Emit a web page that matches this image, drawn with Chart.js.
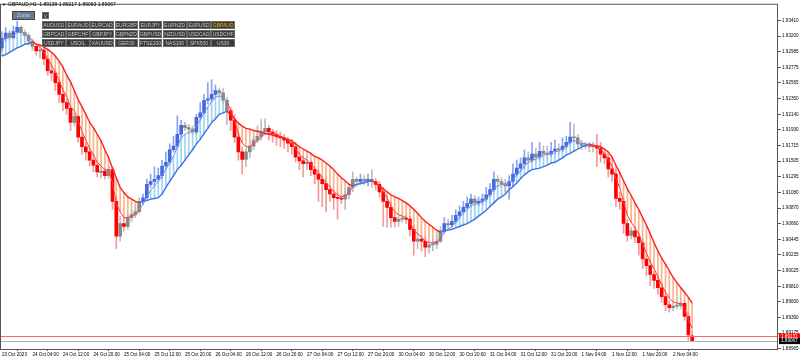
<!DOCTYPE html>
<html>
<head>
<meta charset="utf-8">
<script src="https://cdn.jsdelivr.net/npm/chart.js@4.4.0/dist/chart.umd.min.js"></script>
<style>
  body { margin: 0; background: #fff; }
  #wrap { position: relative; width: 800px; height: 359px; overflow: hidden; }
  #hdr { position: absolute; left: 8px; top: 1px; font: 5px "Liberation Sans", sans-serif; color: #000; white-space: nowrap; }
  #tri { position: absolute; left: 2px; top: 2px; font: 4px "Liberation Sans", sans-serif; color: #000; }
  .btn { position: absolute; box-sizing: border-box; height: 8px; background: #3b3b3b; border: 1px solid #6a6a6a;
         color: #c9c9c9; font: 5px "Liberation Sans", sans-serif; line-height: 6px; text-align: center; white-space: nowrap; }
  #zoma { position: absolute; left: 12px; top: 11px; width: 23px; height: 9px; box-sizing: border-box; background: #6e7888;
          border: 1px solid #3d4450; color: #a9dcff; font: 5px "Liberation Sans", sans-serif; line-height: 7px; text-align: center; }
</style>
</head>
<body>
<div id="wrap">
  <canvas id="candleChart" width="800" height="359"></canvas>
  <div id="tri">▼</div>
  <div id="hdr">GBPAUD,H1&nbsp; 1.89139 1.89217 1.89063 1.89067</div>
  <div id="zoma">Zoma</div>
</div>
<script>
// price data (GBPAUD H1)
const openP = [
  1.9304,1.9317,1.9324,1.9318,1.9326,1.9332,1.9325,1.9321,1.9313,1.9306,
  1.9300,1.9301,1.9289,1.9273,1.9270,1.9257,1.9241,1.9230,1.9222,1.9203,
  1.9211,1.9183,1.9170,1.9163,1.9152,1.9145,1.9135,1.9137,1.9131,1.9139,
  1.9096,1.9049,1.9066,1.9062,1.9074,1.9078,1.9082,1.9096,1.9101,1.9119,
  1.9123,1.9126,1.9131,1.9144,1.9149,1.9166,1.9171,1.9187,1.9199,1.9196,
  1.9194,1.9190,1.9210,1.9216,1.9233,1.9235,1.9241,1.9246,1.9243,1.9233,
  1.9219,1.9206,1.9183,1.9163,1.9153,1.9163,1.9171,1.9179,1.9184,1.9190,
  1.9195,1.9190,1.9187,1.9184,1.9182,1.9179,1.9175,1.9170,1.9156,1.9151,
  1.9147,1.9149,1.9139,1.9133,1.9126,1.9120,1.9112,1.9106,1.9101,1.9100,
  1.9099,1.9105,1.9115,1.9126,1.9123,1.9126,1.9124,1.9126,1.9123,1.9119,
  1.9109,1.9096,1.9088,1.9074,1.9069,1.9072,1.9073,1.9072,1.9058,1.9042,
  1.9045,1.9042,1.9034,1.9037,1.9038,1.9042,1.9056,1.9066,1.9064,1.9069,
  1.9077,1.9082,1.9088,1.9093,1.9099,1.9094,1.9096,1.9099,1.9105,1.9112,
  1.9126,1.9123,1.9120,1.9117,1.9123,1.9133,1.9141,1.9147,1.9155,1.9152,
  1.9160,1.9156,1.9164,1.9161,1.9160,1.9164,1.9167,1.9166,1.9171,1.9176,
  1.9183,1.9182,1.9174,1.9172,1.9171,1.9170,1.9171,1.9168,1.9160,1.9155,
  1.9140,1.9133,1.9100,1.9096,1.9066,1.9050,1.9056,1.9048,1.9040,1.9018,
  1.9009,1.8997,1.8989,1.8979,1.8967,1.8956,1.8952,1.8954,1.8955,1.8958,
  1.8940,1.89139
];
const highP = [
  1.9326,1.9332,1.9328,1.9334,1.9340,1.9334,1.9328,1.9324,1.9316,1.9310,
  1.9305,1.9304,1.9294,1.9281,1.9273,1.9260,1.9249,1.9235,1.9224,1.9216,
  1.9214,1.9190,1.9176,1.9168,1.9160,1.9149,1.9143,1.9141,1.9144,1.9143,
  1.9102,1.9076,1.9074,1.9080,1.9085,1.9089,1.9101,1.9106,1.9126,1.9133,
  1.9143,1.9141,1.9152,1.9163,1.9174,1.9184,1.9212,1.9206,1.9203,1.9200,
  1.9198,1.9214,1.9230,1.9241,1.9257,1.9261,1.9254,1.9250,1.9249,1.9237,
  1.9223,1.9214,1.9190,1.9170,1.9168,1.9176,1.9184,1.9198,1.9207,1.9208,
  1.9199,1.9194,1.9192,1.9190,1.9187,1.9183,1.9180,1.9176,1.9163,1.9157,
  1.9157,1.9152,1.9143,1.9139,1.9131,1.9128,1.9117,1.9112,1.9109,1.9105,
  1.9112,1.9120,1.9136,1.9129,1.9133,1.9131,1.9133,1.9139,1.9127,1.9123,
  1.9115,1.9102,1.9096,1.9082,1.9077,1.9078,1.9077,1.9076,1.9064,1.9053,
  1.9050,1.9048,1.9042,1.9045,1.9050,1.9062,1.9074,1.9072,1.9077,1.9085,
  1.9090,1.9096,1.9102,1.9106,1.9104,1.9102,1.9106,1.9115,1.9120,1.9136,
  1.9131,1.9128,1.9126,1.9131,1.9147,1.9152,1.9155,1.9166,1.9163,1.9176,
  1.9168,1.9176,1.9171,1.9171,1.9176,1.9179,1.9174,1.9182,1.9184,1.9203,
  1.9200,1.9187,1.9179,1.9176,1.9175,1.9176,1.9187,1.9176,1.9166,1.9160,
  1.9147,1.9139,1.9109,1.9101,1.9072,1.9061,1.9061,1.9053,1.9045,1.9026,
  1.9015,1.9002,1.8997,1.8986,1.8973,1.8962,1.8959,1.8962,1.8965,1.8962,
  1.8946,1.89217
];
const lowP = [
  1.9300,1.9313,1.9314,1.9316,1.9324,1.9321,1.9317,1.9308,1.9301,1.9294,
  1.9290,1.9281,1.9267,1.9260,1.9246,1.9230,1.9219,1.9214,1.9192,1.9198,
  1.9176,1.9160,1.9152,1.9144,1.9136,1.9129,1.9128,1.9126,1.9127,1.9085,
  1.9032,1.9042,1.9056,1.9058,1.9069,1.9074,1.9080,1.9092,1.9099,1.9115,
  1.9117,1.9123,1.9127,1.9139,1.9147,1.9163,1.9168,1.9183,1.9192,1.9188,
  1.9186,1.9187,1.9206,1.9214,1.9228,1.9231,1.9237,1.9239,1.9227,1.9200,
  1.9192,1.9176,1.9152,1.9133,1.9143,1.9155,1.9166,1.9176,1.9179,1.9186,
  1.9179,1.9176,1.9172,1.9170,1.9168,1.9163,1.9160,1.9149,1.9139,1.9129,
  1.9139,1.9131,1.9120,1.9096,1.9089,1.9082,1.9096,1.9085,1.9072,1.9093,
  1.9085,1.9099,1.9109,1.9116,1.9119,1.9119,1.9117,1.9115,1.9112,1.9102,
  1.9062,1.9061,1.9061,1.9061,1.9062,1.9068,1.9066,1.9049,1.9023,1.9032,
  1.9029,1.9021,1.9026,1.9029,1.9032,1.9040,1.9053,1.9058,1.9061,1.9066,
  1.9074,1.9080,1.9085,1.9089,1.9089,1.9090,1.9092,1.9096,1.9102,1.9109,
  1.9116,1.9115,1.9109,1.9099,1.9117,1.9131,1.9136,1.9141,1.9147,1.9149,
  1.9149,1.9152,1.9155,1.9152,1.9157,1.9160,1.9160,1.9163,1.9168,1.9174,
  1.9176,1.9170,1.9166,1.9167,1.9163,1.9163,1.9143,1.9149,1.9147,1.9129,
  1.9123,1.9089,1.9085,1.9053,1.9042,1.9045,1.9040,1.9023,1.9005,1.8995,
  1.8982,1.8978,1.8970,1.8959,1.8948,1.8946,1.8948,1.8950,1.8951,1.8935,
  1.8908,1.89063
];
const closeP = [
  1.9317,1.9324,1.9318,1.9326,1.9332,1.9325,1.9321,1.9313,1.9306,1.9300,
  1.9301,1.9289,1.9273,1.9270,1.9257,1.9241,1.9230,1.9222,1.9203,1.9211,
  1.9183,1.9170,1.9163,1.9152,1.9145,1.9136,1.9137,1.9131,1.9139,1.9096,
  1.9049,1.9066,1.9062,1.9074,1.9078,1.9082,1.9096,1.9101,1.9119,1.9123,
  1.9126,1.9131,1.9144,1.9149,1.9166,1.9171,1.9187,1.9199,1.9196,1.9194,
  1.9190,1.9210,1.9216,1.9233,1.9235,1.9241,1.9246,1.9243,1.9233,1.9219,
  1.9206,1.9183,1.9163,1.9153,1.9163,1.9171,1.9179,1.9184,1.9190,1.9195,
  1.9190,1.9187,1.9184,1.9182,1.9179,1.9175,1.9170,1.9156,1.9151,1.9147,
  1.9149,1.9139,1.9133,1.9126,1.9120,1.9112,1.9106,1.9101,1.9100,1.9099,
  1.9105,1.9115,1.9126,1.9123,1.9126,1.9124,1.9126,1.9123,1.9119,1.9109,
  1.9096,1.9088,1.9074,1.9069,1.9072,1.9073,1.9072,1.9058,1.9042,1.9045,
  1.9042,1.9034,1.9037,1.9038,1.9042,1.9056,1.9066,1.9064,1.9069,1.9077,
  1.9082,1.9088,1.9093,1.9099,1.9094,1.9096,1.9099,1.9105,1.9112,1.9126,
  1.9123,1.9120,1.9117,1.9123,1.9133,1.9141,1.9147,1.9155,1.9152,1.9160,
  1.9156,1.9164,1.9161,1.9160,1.9164,1.9167,1.9166,1.9171,1.9176,1.9183,
  1.9182,1.9174,1.9172,1.9171,1.9170,1.9171,1.9168,1.9160,1.9155,1.9140,
  1.9133,1.9100,1.9096,1.9066,1.9050,1.9056,1.9048,1.9040,1.9018,1.9009,
  1.8997,1.8989,1.8979,1.8967,1.8956,1.8952,1.8954,1.8955,1.8958,1.8940,
  1.8915,1.89067
];
// slow trend MA and fast MA
const slowMA = [
  1.9293,1.9295,1.9298,1.9301,1.9304,1.9306,1.9309,1.9310,1.9312,1.9309,
  1.9308,1.9305,1.9302,1.9298,1.9293,1.9286,1.9278,1.9267,1.9258,1.9246,
  1.9234,1.9224,1.9214,1.9203,1.9196,1.9187,1.9178,1.9166,1.9155,1.9141,
  1.9128,1.9115,1.9108,1.9102,1.9099,1.9096,1.9094,1.9096,1.9097,1.9099,
  1.9100,1.9101,1.9106,1.9115,1.9123,1.9131,1.9139,1.9145,1.9152,1.9159,
  1.9166,1.9174,1.9180,1.9188,1.9195,1.9203,1.9208,1.9214,1.9216,1.9218,
  1.9214,1.9208,1.9202,1.9198,1.9195,1.9194,1.9192,1.9191,1.9190,1.9188,
  1.9187,1.9186,1.9184,1.9183,1.9182,1.9180,1.9178,1.9174,1.9170,1.9167,
  1.9164,1.9161,1.9157,1.9155,1.9152,1.9148,1.9144,1.9139,1.9133,1.9128,
  1.9124,1.9119,1.9117,1.9119,1.9120,1.9121,1.9123,1.9124,1.9121,1.9117,
  1.9113,1.9109,1.9105,1.9102,1.9100,1.9097,1.9094,1.9090,1.9085,1.9080,
  1.9074,1.9069,1.9065,1.9061,1.9057,1.9054,1.9056,1.9057,1.9058,1.9060,
  1.9062,1.9064,1.9066,1.9069,1.9072,1.9076,1.9080,1.9084,1.9089,1.9094,
  1.9099,1.9102,1.9106,1.9112,1.9116,1.9121,1.9127,1.9132,1.9136,1.9139,
  1.9140,1.9141,1.9143,1.9145,1.9148,1.9149,1.9152,1.9155,1.9159,1.9161,
  1.9164,1.9167,1.9170,1.9172,1.9174,1.9172,1.9171,1.9170,1.9167,1.9163,
  1.9156,1.9145,1.9135,1.9124,1.9113,1.9104,1.9094,1.9085,1.9074,1.9064,
  1.9052,1.9040,1.9029,1.9019,1.9011,1.9002,1.8993,1.8986,1.8979,1.8973,
  1.8966,1.8958
];
const fastMA = [
  1.9313,1.9317,1.9318,1.9321,1.9325,1.9325,1.9324,1.9320,1.9314,1.9309,
  1.9305,1.9298,1.9289,1.9281,1.9271,1.9260,1.9247,1.9238,1.9224,1.9219,
  1.9204,1.9191,1.9179,1.9168,1.9159,1.9149,1.9144,1.9139,1.9139,1.9121,
  1.9093,1.9082,1.9074,1.9074,1.9076,1.9078,1.9085,1.9092,1.9102,1.9111,
  1.9117,1.9123,1.9131,1.9139,1.9149,1.9157,1.9170,1.9182,1.9187,1.9190,
  1.9190,1.9198,1.9206,1.9216,1.9224,1.9231,1.9237,1.9239,1.9237,1.9230,
  1.9220,1.9206,1.9188,1.9175,1.9170,1.9170,1.9174,1.9178,1.9183,1.9188,
  1.9188,1.9188,1.9187,1.9184,1.9182,1.9179,1.9175,1.9167,1.9160,1.9155,
  1.9152,1.9147,1.9141,1.9135,1.9128,1.9121,1.9116,1.9109,1.9105,1.9102,
  1.9104,1.9108,1.9115,1.9119,1.9121,1.9123,1.9124,1.9124,1.9121,1.9117,
  1.9109,1.9101,1.9090,1.9082,1.9078,1.9076,1.9074,1.9068,1.9057,1.9052,
  1.9048,1.9042,1.9040,1.9040,1.9041,1.9046,1.9054,1.9058,1.9062,1.9068,
  1.9074,1.9080,1.9085,1.9090,1.9092,1.9093,1.9096,1.9100,1.9105,1.9113,
  1.9117,1.9119,1.9119,1.9120,1.9126,1.9132,1.9137,1.9144,1.9148,1.9152,
  1.9153,1.9157,1.9159,1.9160,1.9161,1.9164,1.9164,1.9167,1.9171,1.9176,
  1.9179,1.9176,1.9175,1.9174,1.9172,1.9171,1.9170,1.9166,1.9161,1.9152,
  1.9144,1.9127,1.9115,1.9096,1.9077,1.9068,1.9060,1.9052,1.9038,1.9026,
  1.9014,1.9005,1.8994,1.8983,1.8973,1.8965,1.8960,1.8958,1.8958,1.8951,
  1.8936,1.8924
];

const yTicks = [1.93410, 1.93200, 1.92985, 1.92775, 1.92565, 1.92350, 1.92140, 1.91930, 1.91715, 1.91505, 1.91295,
  1.91080, 1.90870, 1.90660, 1.90445, 1.90235, 1.90025, 1.89810, 1.89600, 1.89390, 1.89175, 1.88965];
const tickLabels = ["23 Oct 20:00", "24 Oct 04:00", "24 Oct 12:00", "24 Oct 20:00", "25 Oct 04:00", "25 Oct 12:00",
  "25 Oct 20:00", "26 Oct 04:00", "26 Oct 12:00", "26 Oct 20:00", "27 Oct 04:00", "27 Oct 12:00", "27 Oct 20:00",
  "30 Oct 04:00", "30 Oct 12:00", "30 Oct 20:00", "31 Oct 04:00", "31 Oct 12:00", "31 Oct 20:00", "1 Nov 04:00",
  "1 Nov 12:00", "1 Nov 20:00", "2 Nov 04:00"];
const askPrice = 1.89131;
const bidPrice = 1.89067;

const symbolRows = [
  ["AUDUSD", "EURAUD", "EURCAD", "EURGBP", "EURJPY", "EURNZD", "EURUSD", "GBPAUD"],
  ["GBPCAD", "GBPCHF", "GBPJPY", "GBPNZD", "GBPUSD", "NZDUSD", "USDCAD", "USDCHF"],
  ["USDJPY", "USOIL", "XAUUSD", "GER30", "FTSE100", "NAS100", "SPX500", "US30"],
];

// hourly bars, weekend skipped
const months = ["Jan", "Feb", "Mar", "Apr", "May", "Jun", "Jul", "Aug", "Sep", "Oct", "Nov", "Dec"];
const categories = [];
for (let t = Date.UTC(2023, 9, 23, 20); categories.length < closeP.length; t += 3600000) {
  const d = new Date(t);
  if (d.getUTCDay() === 0 || d.getUTCDay() === 6) continue;
  categories.push(d.getUTCDate() + " " + months[d.getUTCMonth()] + " " + String(d.getUTCHours()).padStart(2, "0") + ":00");
}
for (let k = 0; k < 22; k++) categories.push("");

// colours
const BLUE = "#4169e1", RED = "#ff0000", GREY = "#8a8a8a";
const trendUp = slowMA.map((v, i) => i === 0 ? slowMA[1] >= v : v >= slowMA[i - 1]);
const candleKind = closeP.map((c, i) => {
  const bull = c >= openP[i];
  if (trendUp[i] && bull) return "up";
  if (!trendUp[i] && !bull) return "down";
  return "flat";
});
const bodyCol = { up: BLUE, down: RED, flat: GREY };
const wickCol = { up: "#8da4ec", down: "#f59a9a", flat: "#bdbdbd" };

// buttons panel
const wrap = document.getElementById("wrap");
const v = document.createElement("div");
v.className = "btn"; v.textContent = "V";
Object.assign(v.style, { left: "42px", top: "12px", width: "7px", height: "7px" });
wrap.appendChild(v);
symbolRows.forEach((row, r) => {
  row.forEach((s, c) => {
    const b = document.createElement("div");
    b.className = "btn";
    b.textContent = s;
    Object.assign(b.style, { left: (42 + c * 24.2) + "px", top: (20.5 + r * 9) + "px", width: "23.5px" });
    if (s === "GBPAUD") b.style.color = "#f2b600";
    wrap.appendChild(b);
  });
});

const priceLines = {
  id: "priceLines",
  afterDatasetsDraw(chart) {
    const { ctx, chartArea: a, scales: { y } } = chart;
    ctx.save();
    ctx.lineWidth = 1;
    ctx.strokeStyle = "#ff6666";
    let py = Math.round(y.getPixelForValue(askPrice)) + 0.5;
    ctx.beginPath(); ctx.moveTo(a.left, py); ctx.lineTo(a.right, py); ctx.stroke();
    ctx.strokeStyle = "#aab6c6";
    py = Math.round(y.getPixelForValue(bidPrice)) + 0.5;
    ctx.beginPath(); ctx.moveTo(a.left, py); ctx.lineTo(a.right, py); ctx.stroke();
    // frame
    ctx.strokeStyle = "#555";
    ctx.strokeRect(a.left + 0.5, a.top + 0.5, a.right - a.left - 1, a.bottom - a.top);
    ctx.restore();
  },
  afterDraw(chart) {
    const { ctx, chartArea: a, scales: { y } } = chart;
    ctx.save();
    ctx.font = "4.6px 'Liberation Sans'";
    ctx.textBaseline = "middle";
    [[askPrice, "#ff0000"], [bidPrice, "#000000"]].forEach(([p, col]) => {
      const py = y.getPixelForValue(p);
      ctx.fillStyle = col;
      ctx.fillRect(a.right + 1, py - 3, 21, 6);
      ctx.fillStyle = "#fff";
      ctx.fillText(p.toFixed(5), a.right + 3, py);
    });
    ctx.restore();
  },
};

Chart.defaults.font.family = "'Liberation Sans', sans-serif";
Chart.defaults.font.size = 4.6;
Chart.defaults.color = "#000";

const ctx = document.getElementById("candleChart").getContext("2d");
const chart = new Chart(ctx, {
  type: "bar",
  data: {
    labels: categories,
    datasets: [
      {
        // hatches between fast and slow MA
        data: fastMA.map((f, i) => [f, slowMA[i]]),
        backgroundColor: trendUp.map(u => u ? "#9fd3f2" : "#fbb38a"),
        barThickness: 1,
        grouped: false,
        order: 5,
      },
      {
        data: lowP.map((l, i) => [l, highP[i]]),
        backgroundColor: candleKind.map(k => wickCol[k]),
        barThickness: 1,
        grouped: false,
        order: 4,
      },
      {
        data: openP.map((o, i) => [o, closeP[i]]),
        backgroundColor: candleKind.map(k => bodyCol[k]),
        barThickness: 3,
        minBarLength: 1,
        grouped: false,
        order: 3,
      },
      {
        type: "line",
        data: fastMA,
        borderWidth: 1,
        pointRadius: 0,
        segment: { borderColor: c => trendUp[c.p1DataIndex] ? "#6f8fe0" : "#ff3b3b" },
        order: 2,
      },
      {
        type: "line",
        data: slowMA,
        borderWidth: 1.4,
        pointRadius: 0,
        segment: { borderColor: c => c.p1.parsed.y >= c.p0.parsed.y ? "#3f72e0" : "#ff1f1f" },
        order: 1,
      },
    ],
  },
  options: {
    responsive: false,
    animation: false,
    layout: { padding: 0 },
    plugins: { legend: { display: false }, tooltip: { enabled: false } },
    scales: {
      x: {
        grid: { display: true, drawOnChartArea: false, tickLength: 2, color: "#555" },
        border: { display: false },
        afterFit: s => { s.height = 10; },
        afterBuildTicks: s => { s.ticks = tickLabels.map(l => ({ value: categories.indexOf(l) })); },
        ticks: {
          autoSkip: false, maxRotation: 0, minRotation: 0, align: "start", padding: 1,
          callback: function (val) { return val === 0 ? "23 Oct 2023" : this.getLabelForValue(val); },
        },
      },
      y: {
        position: "right",
        min: 1.88960,
        max: 1.93638,
        grid: { display: true, drawOnChartArea: false, tickLength: 3, color: "#555" },
        border: { display: false },
        afterFit: s => { s.width = 22; },
        afterBuildTicks: s => { s.ticks = yTicks.map(t => ({ value: t })); },
        ticks: { padding: 1, callback: val => val.toFixed(5) },
      },
    },
  },
  plugins: [priceLines],
});
</script>
</body>
</html>
